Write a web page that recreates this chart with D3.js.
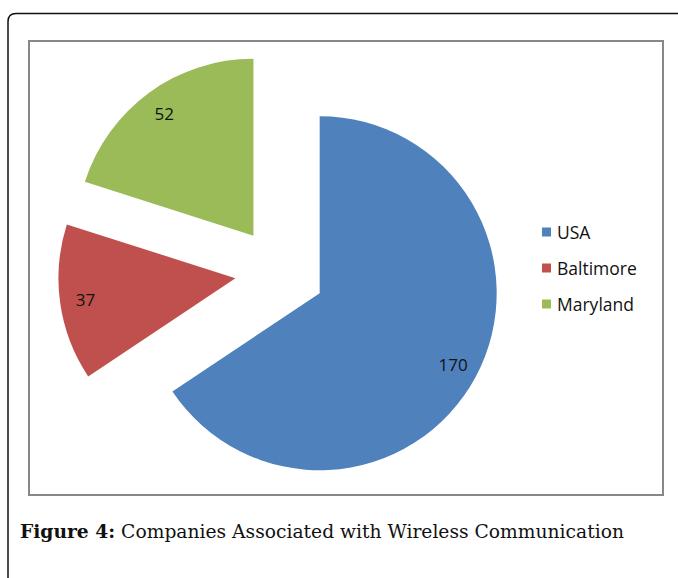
<!DOCTYPE html>
<html>
<head>
<meta charset="utf-8">
<script src="https://cdn.jsdelivr.net/npm/d3@7"></script>
<style>
  html, body { margin: 0; padding: 0; background: #fff; }
  svg { display: block; }
</style>
</head>
<body>
<svg id="chart" width="678" height="578"></svg>
<script>
// ---- data ----
const categories = ["USA", "Baltimore", "Maryland"];
const values = [170, 37, 52];
const colors = ["#4F81BD", "#C0504D", "#9BBB59"];
const captionBold = "Figure 4:";
const captionText = " Companies Associated with Wireless Communication";

// ---- layout ----
const W = 678, H = 578;
const svg = d3.select("#chart");

// outer rounded frame (open at right/bottom edges of the window)
const ox = 8, oy = 13.5, cr = 8;
svg.append("path")
  .attr("d", `M${ox},${H + 5} L${ox},${oy + cr} Q${ox},${oy} ${ox + cr},${oy} L${W + 5},${oy}`)
  .attr("fill", "none")
  .attr("stroke", "#111")
  .attr("stroke-width", 1.5);

// inner plot-area frame
svg.append("rect")
  .attr("x", 29).attr("y", 41)
  .attr("width", 634).attr("height", 454)
  .attr("fill", "#fff")
  .attr("stroke", "#878787")
  .attr("stroke-width", 2);

// pie
const cx = 280, cy = 272, R = 177, explode = 45, labelFrac = 0.855;
const pie = d3.pie().sort(null).startAngle(0).endAngle(2 * Math.PI);
const arcs = pie(values);
const arc = d3.arc().innerRadius(0).outerRadius(R);

const g = svg.append("g").attr("transform", `translate(${cx},${cy})`);
const slice = g.selectAll("g.slice")
  .data(arcs)
  .enter().append("g")
  .attr("class", "slice")
  .attr("transform", d => {
    const a = (d.startAngle + d.endAngle) / 2;
    return `translate(${explode * Math.sin(a)},${-explode * Math.cos(a)})`;
  });

slice.append("path")
  .attr("d", arc)
  .attr("fill", (d, i) => colors[i]);

slice.append("text")
  .attr("x", d => labelFrac * R * Math.sin((d.startAngle + d.endAngle) / 2))
  .attr("y", d => -labelFrac * R * Math.cos((d.startAngle + d.endAngle) / 2))
  .attr("text-anchor", "middle")
  .attr("dominant-baseline", "central")
  .attr("font-family", "'Open Sans', sans-serif")
  .attr("font-size", 17)
  .attr("fill", "#111")
  .text(d => d.data);

// legend
const legend = svg.append("g").attr("transform", "translate(542,232)");
const item = legend.selectAll("g")
  .data(categories)
  .enter().append("g")
  .attr("transform", (d, i) => `translate(0,${i * 36})`);
item.append("rect")
  .attr("x", 0).attr("y", -4.5)
  .attr("width", 9).attr("height", 9)
  .attr("fill", (d, i) => colors[i]);
item.append("text")
  .attr("x", 15).attr("y", 0)
  .attr("dominant-baseline", "central")
  .attr("font-family", "'Open Sans', sans-serif")
  .attr("font-size", 17.5)
  .attr("fill", "#111")
  .text(d => d);

// caption
const cap = svg.append("text")
  .attr("x", 20).attr("y", 538)
  .attr("font-family", "'DejaVu Serif', serif")
  .attr("font-size", 18.7)
  .attr("fill", "#111");
cap.append("tspan").attr("font-weight", "bold").text(captionBold);
cap.append("tspan").text(captionText);
</script>
</body>
</html>
